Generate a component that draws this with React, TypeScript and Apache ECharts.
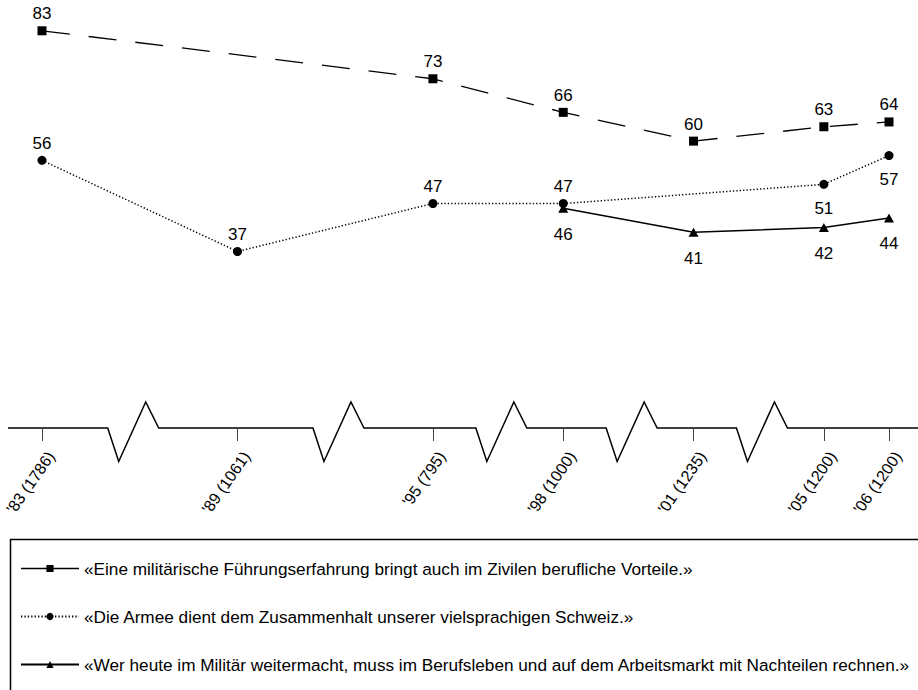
import React, { useEffect, useRef } from "react";
import * as echarts from "echarts";

// Category slots: empty strings are gaps on the (broken) time axis
const categories = [
  "'83 (1786)", "", "", "'89 (1061)", "", "", "'95 (795)", "", "'98 (1000)", "", "'01 (1235)", "", "'05 (1200)", "'06 (1200)",
];

const seriesNames = [
  "«Eine militärische Führungserfahrung bringt auch im Zivilen berufliche Vorteile.»",
  "«Die Armee dient dem Zusammenhalt unserer vielsprachigen Schweiz.»",
  "«Wer heute im Militär weitermacht, muss im Berufsleben und auf dem Arbeitsmarkt mit Nachteilen rechnen.»",
];

const fuehrungValues = [83, null, null, null, null, null, 73, null, 66, null, 60, null, 63, 64];
const zusammenhaltValues = [56, null, null, 37, null, null, 47, null, 47, null, null, null, 51, 57];
const nachteileValues = [null, null, null, null, null, null, null, null, 46, null, 41, null, 42, 44];

// Slots from which the circle-series labels are drawn below the points
const zusammenhaltLabelBelowFrom = 12;

// Axis break (zigzag) positions, in slot units
const breakSlots = [1.4, 4.55, 7.05, 9.05, 11.05];

const FONT = "'Liberation Sans', Arial, Helvetica, sans-serif";

export default function App() {
  const ref = useRef<HTMLDivElement>(null);

  useEffect(() => {
    document.body.style.margin = "0";
    if (!ref.current) return;
    const chart = echarts.init(ref.current, undefined, { renderer: "svg" });

    const labelBase = { show: true, color: "#000", fontSize: 17, fontFamily: FONT };

    const option: any = {
      animation: false,
      backgroundColor: "#fff",
      grid: { left: 42, right: 29, top: 2, bottom: 261, containLabel: false, outerBoundsMode: "none" },
      xAxis: {
        type: "category",
        data: categories,
        boundaryGap: false,
        axisLine: { show: false },
        axisTick: {
          show: true,
          length: 12,
          interval: (_i: number, v: string) => v !== "",
          lineStyle: { color: "#444", width: 1 },
        },
        axisLabel: {
          interval: 0,
          rotate: 55,
          margin: 18,
          align: "right",
          verticalAlign: "top",
          lineHeight: 22,
          color: "#000",
          fontSize: 16,
          fontFamily: FONT,
        },
        splitLine: { show: false },
      },
      yAxis: { type: "value", min: 0, max: 89, show: false },
      legend: {
        orient: "vertical",
        left: 15,
        top: 555,
        itemWidth: 58,
        itemHeight: 9,
        itemGap: 31,
        textStyle: { color: "#000", fontSize: 17.2, fontFamily: FONT },
        data: [
          { name: seriesNames[0], lineStyle: { type: "solid", width: 1.5 } },
          { name: seriesNames[1] },
          { name: seriesNames[2] },
        ],
      },
      series: [
        {
          name: seriesNames[0],
          type: "line",
          data: fuehrungValues,
          connectNulls: true,
          symbol: "rect",
          symbolSize: 9,
          clip: false,
          color: "#000",
          itemStyle: { color: "#000" },
          lineStyle: { color: "#000", width: 1.3, type: [28, 19] },
          label: { ...labelBase, position: "top", distance: 4 },
        },
        {
          name: seriesNames[1],
          type: "line",
          data: zusammenhaltValues.map((v, i) =>
            v == null
              ? null
              : i >= zusammenhaltLabelBelowFrom
              ? { value: v, label: { position: "bottom", distance: 11 } }
              : v
          ),
          connectNulls: true,
          symbol: "circle",
          symbolSize: 9,
          clip: false,
          color: "#000",
          itemStyle: { color: "#000" },
          lineStyle: { color: "#000", width: 1.5, type: [1.3, 2.1] },
          label: { ...labelBase, position: "top", distance: 4 },
        },
        {
          name: seriesNames[2],
          type: "line",
          data: nachteileValues,
          connectNulls: true,
          symbol: "triangle",
          symbolSize: [10, 9],
          clip: false,
          color: "#000",
          itemStyle: { color: "#000" },
          lineStyle: { color: "#000", width: 1.5, type: "solid" },
          label: { ...labelBase, position: "bottom", distance: 13 },
        },
      ],
    };

    chart.setOption(option);

    // Decorative broken axis line with zigzags and the legend frame
    const p0 = chart.convertToPixel({ xAxisIndex: 0 }, 0) as number;
    const p1 = chart.convertToPixel({ xAxisIndex: 0 }, 1) as number;
    const step = p1 - p0;
    const y0 = (chart.convertToPixel({ yAxisIndex: 0 }, 0) as number) - 1;
    const pts: number[][] = [[8, y0]];
    breakSlots.forEach((s) => {
      const c = p0 + s * step;
      pts.push([c - 25.5, y0], [c - 14.5, y0 + 33.5], [c + 12.5, y0 - 26], [c + 25.5, y0]);
    });
    pts.push([918, y0]);

    chart.setOption({
      graphic: [
        {
          type: "polyline",
          shape: { points: pts },
          style: { stroke: "#000", lineWidth: 1.5, fill: null },
          silent: true,
          z: 10,
        },
        {
          type: "rect",
          shape: { x: 10.5, y: 539.5, width: 1000, height: 300 },
          style: { stroke: "#000", lineWidth: 1.5, fill: null },
          silent: true,
          z: -1,
        },
      ],
    });

    return () => chart.dispose();
  }, []);

  return <div ref={ref} style={{ width: 918, height: 690 }} />;
}
